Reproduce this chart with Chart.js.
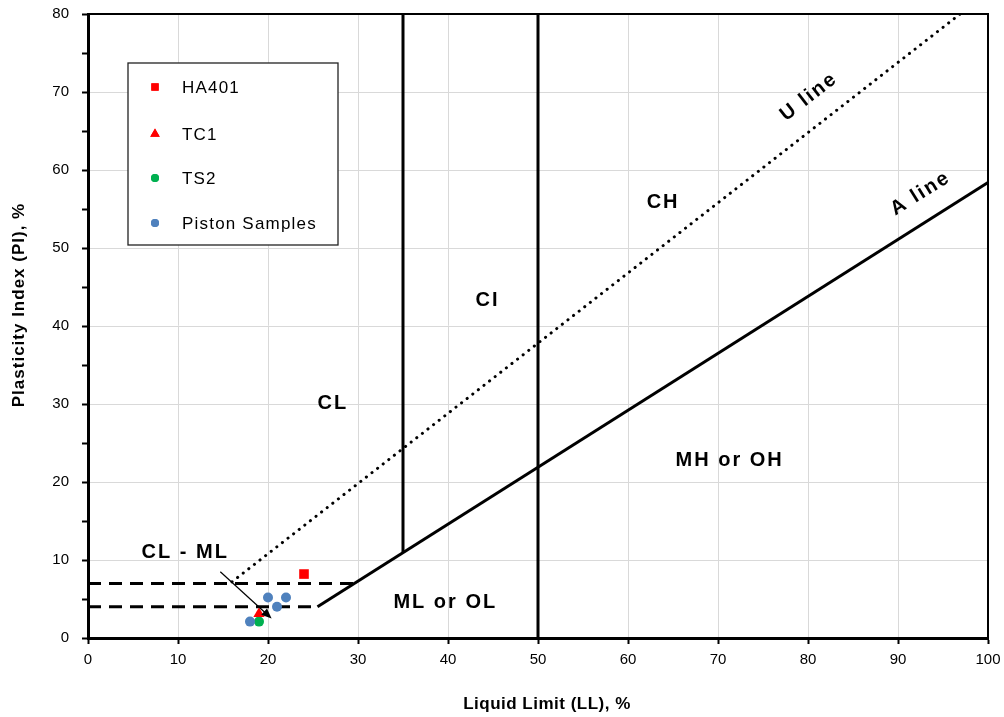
<!DOCTYPE html>
<html>
<head>
<meta charset="utf-8">
<script src="https://cdn.jsdelivr.net/npm/chart.js@4.4.1/dist/chart.umd.min.js"></script>
<style>
  html, body { margin: 0; padding: 0; background: #fff; }
  canvas { display: block; }
</style>
</head>
<body>
<canvas id="plasticityChart" width="1004" height="717"></canvas>
<script>
// Sample results (LL, PI)
const ha401 = [{ x: 24, y: 8.2 }];
const tc1 = [{ x: 19, y: 3.1 }];
const ts2 = [{ x: 19, y: 2.1 }];
const pistonSamples = [
    { x: 20, y: 5.2 },
    { x: 22, y: 5.2 },
    { x: 21, y: 4.0 },
    { x: 18, y: 2.1 }
];

// Chart boundaries
const uLine = [{ x: 16, y: 7.2 }, { x: 96.9, y: 80 }];
const aLine = [{ x: 25.5, y: 4 }, { x: 100, y: 58.4 }];
const ll35Line = [{ x: 35, y: 10.95 }, { x: 35, y: 80 }];
const ll50Line = [{ x: 50, y: 0 }, { x: 50, y: 80 }];
const pi7Line = [{ x: 0, y: 7 }, { x: 29.6, y: 7 }];
const pi4Line = [{ x: 0, y: 4 }, { x: 25.5, y: 4 }];

// Zone labels [text, LL, PI, angle in degrees]
const zoneLabels = [
    ['CL', 27.2, 30.1, 0],
    ['CI', 44.4, 43.3, 0],
    ['CH', 63.9, 55.8, 0],
    ['MH or OH', 71.3, 22.8, 0],
    ['ML or OL', 39.7, 4.6, 0],
    ['CL - ML', 10.8, 11.0, 0],
    ['U line', 80.1, 69.4, -38],
    ['A line', 92.5, 57.0, -32]
];
const cmlArrow = [{ x: 14.7, y: 8.5 }, { x: 20.4, y: 2.5 }];

const xTitle = 'Liquid Limit (LL), %';
const yTitle = 'Plasticity Index (PI), %';

const FONT = '"Liberation Sans", Arial, sans-serif';

const boundary = (data, dash, cap) => ({
    type: 'line',
    data: data,
    borderColor: '#000',
    borderWidth: 3,
    borderDash: dash || [],
    borderCapStyle: cap || 'butt',
    pointRadius: 0,
    fill: false,
    order: 2
});

// Draws the frame, titles, zone text, arrow and legend box
const overlayPlugin = {
    id: 'overlay',
    afterDatasetsDraw(chart) {
        const ctx = chart.ctx;
        const xs = chart.scales.x;
        const ys = chart.scales.y;
        const area = chart.chartArea;
        ctx.save();

        // top / right frame
        ctx.strokeStyle = '#000';
        ctx.lineWidth = 2;
        ctx.beginPath();
        ctx.moveTo(area.left, area.top);
        ctx.lineTo(area.right, area.top);
        ctx.lineTo(area.right, area.bottom);
        ctx.stroke();

        // axis titles
        ctx.fillStyle = '#000';
        ctx.textAlign = 'center';
        ctx.textBaseline = 'middle';
        ctx.font = 'bold 17px ' + FONT;
        ctx.letterSpacing = '0.5px';
        ctx.fillText(xTitle, 547, 704);
        ctx.save();
        ctx.translate(19, 305);
        ctx.rotate(-Math.PI / 2);
        ctx.letterSpacing = '1px';
        ctx.fillText(yTitle, 0, 0);
        ctx.restore();

        // zone labels
        ctx.font = 'bold 20px ' + FONT;
        ctx.letterSpacing = '2px';
        zoneLabels.forEach(([text, lx, ly, ang]) => {
            ctx.save();
            ctx.translate(xs.getPixelForValue(lx), ys.getPixelForValue(ly));
            ctx.rotate(ang * Math.PI / 180);
            ctx.fillText(text, 0, 0);
            ctx.restore();
        });
        ctx.letterSpacing = '0px';

        // arrow pointing at CL-ML zone
        const x1 = xs.getPixelForValue(cmlArrow[0].x), y1 = ys.getPixelForValue(cmlArrow[0].y);
        const x2 = xs.getPixelForValue(cmlArrow[1].x), y2 = ys.getPixelForValue(cmlArrow[1].y);
        const a = Math.atan2(y2 - y1, x2 - x1);
        ctx.lineWidth = 1.2;
        ctx.beginPath();
        ctx.moveTo(x1, y1);
        ctx.lineTo(x2 - 6 * Math.cos(a), y2 - 6 * Math.sin(a));
        ctx.stroke();
        ctx.beginPath();
        ctx.moveTo(x2, y2);
        ctx.lineTo(x2 - 11 * Math.cos(a - 0.4), y2 - 11 * Math.sin(a - 0.4));
        ctx.lineTo(x2 - 11 * Math.cos(a + 0.4), y2 - 11 * Math.sin(a + 0.4));
        ctx.closePath();
        ctx.fill();

        // legend box
        const bx = area.left + 40, by = area.top + 49, bw = 210, bh = 182;
        ctx.fillStyle = '#fff';
        ctx.fillRect(bx, by, bw, bh);
        ctx.strokeStyle = '#222';
        ctx.lineWidth = 1.3;
        ctx.strokeRect(bx, by, bw, bh);
        ctx.font = '17px ' + FONT;
        ctx.letterSpacing = '1.2px';
        ctx.textAlign = 'left';
        const rowY = [87, 134, 178, 223];
        chart.data.datasets.filter(d => d.type === 'scatter').forEach((d, i) => {
            const y = rowY[i];
            ctx.fillStyle = d.backgroundColor;
            ctx.beginPath();
            Chart.helpers.drawPoint(ctx, {
                pointStyle: d.pointStyle,
                rotation: 0,
                radius: d.legendRadius,
                borderWidth: 0
            }, bx + 27, y);
            ctx.fill();
            ctx.fillStyle = '#000';
            ctx.fillText(d.label, bx + 54, y + 1);
        });
        ctx.letterSpacing = '0px';
        ctx.restore();
    }
};

const ctx = document.getElementById('plasticityChart').getContext('2d');
const plasticityChart = new Chart(ctx, {
    data: {
        datasets: [
            { type: 'scatter', label: 'HA401', data: ha401, pointStyle: 'rect', pointRadius: 6.8, legendRadius: 5.2, backgroundColor: '#ff0000', borderWidth: 0, order: 1 },
            { type: 'scatter', label: 'TC1', data: tc1, pointStyle: 'triangle', pointRadius: 6.5, legendRadius: 5.5, backgroundColor: '#ff0000', borderWidth: 0, order: 1 },
            { type: 'scatter', label: 'TS2', data: ts2, pointStyle: 'circle', pointRadius: 5, legendRadius: 4, backgroundColor: '#00b050', borderWidth: 0, order: 1 },
            { type: 'scatter', label: 'Piston Samples', data: pistonSamples, pointStyle: 'circle', pointRadius: 5, legendRadius: 4, backgroundColor: '#4f81bd', borderWidth: 0, order: 0 },
            boundary(uLine, [0.1, 7], 'round'),
            boundary(aLine),
            boundary(ll35Line),
            boundary(ll50Line),
            boundary(pi7Line, [13, 8]),
            boundary(pi4Line, [13, 8])
        ]
    },
    options: {
        responsive: false,
        animation: false,
        devicePixelRatio: 1,
        layout: {
            padding: { left: 0, top: 14, right: 16, bottom: 0 }
        },
        plugins: {
            legend: { display: false },
            tooltip: { enabled: false }
        },
        scales: {
            x: {
                type: 'linear',
                min: 0,
                max: 100,
                afterFit: (scale) => {
                    scale.height = 79;
                    scale.paddingLeft = 0;
                    scale.paddingRight = 0;
                },
                ticks: {
                    stepSize: 10,
                    color: '#000',
                    padding: 7,
                    maxRotation: 0,
                    font: { family: FONT, size: 15 }
                },
                grid: {
                    color: '#d9d9d9',
                    lineWidth: 1,
                    tickColor: '#000',
                    tickLength: 6,
                    tickWidth: 2
                },
                border: { color: '#000', width: 3 }
            },
            y: {
                type: 'linear',
                min: 0,
                max: 80,
                afterFit: (scale) => {
                    scale.width = 88;
                    scale.paddingTop = 0;
                    scale.paddingBottom = 0;
                },
                ticks: {
                    stepSize: 5,
                    color: '#000',
                    padding: 13,
                    font: { family: FONT, size: 15 },
                    callback: (v) => (v % 10 === 0 ? v : '')
                },
                grid: {
                    color: (c) => (c.tick && c.tick.value % 10 === 0 ? '#d9d9d9' : 'rgba(0,0,0,0)'),
                    lineWidth: 1,
                    tickColor: '#000',
                    tickLength: 6,
                    tickWidth: 2
                },
                border: { color: '#000', width: 3 }
            }
        }
    },
    plugins: [overlayPlugin]
});
</script>
</body>
</html>
